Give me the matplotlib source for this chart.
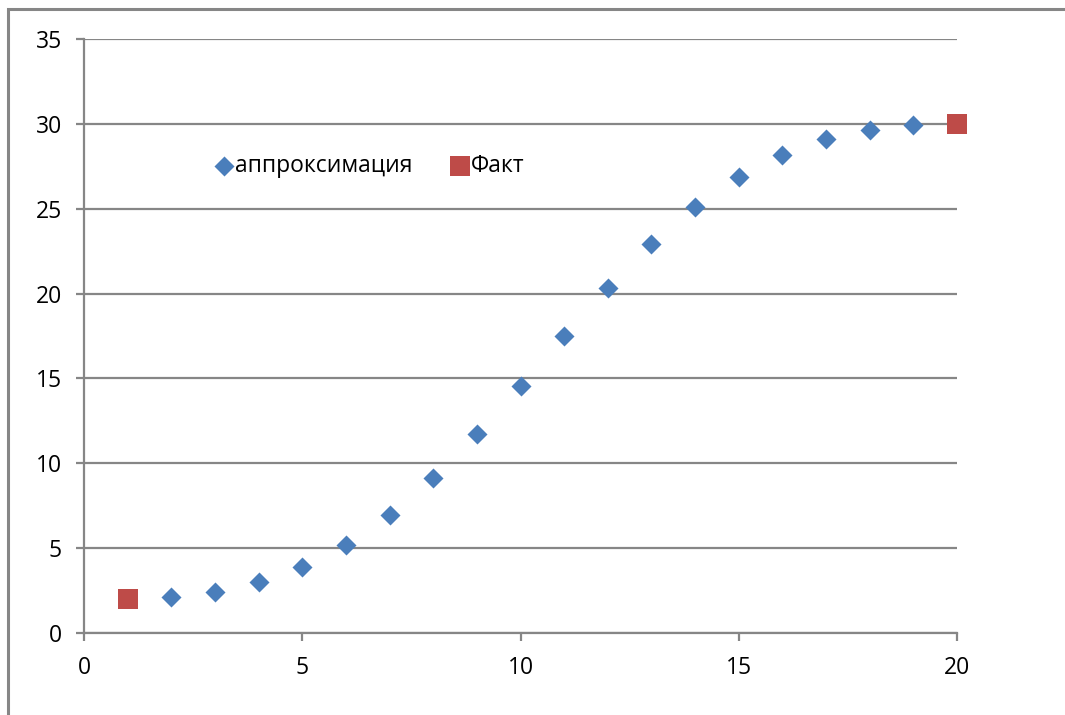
import matplotlib
matplotlib.use("Agg")
import matplotlib.pyplot as plt
from matplotlib.patches import Rectangle

plt.rcParams["font.family"] = ["Open Sans", "DejaVu Sans"]

# аппроксимация (x = 2..19) и фактические точки
approx_x = [2, 3, 4, 5, 6, 7, 8, 9, 10, 11, 12, 13, 14, 15, 16, 17, 18, 19]
approx_y = [2.12, 2.42, 3.0, 3.89, 5.19, 6.95, 9.13, 11.73, 14.56, 17.5,
            20.33, 22.92, 25.1, 26.87, 28.17, 29.11, 29.64, 29.93]
fact_x = [1, 20]
fact_y = [2, 30]

xticks = [0, 5, 10, 15, 20]
yticks = [0, 5, 10, 15, 20, 25, 30, 35]

GRID = "#868686"
BLUE = "#4A7EBB"
RED = "#BE4B48"

fig = plt.figure(figsize=(10.65, 7.15), dpi=100)
# рамка области диаграммы (обрезана справа и снизу)
fig.patches.append(Rectangle((8 / 1065, -0.1), 1.2, 1 - 9 / 715 + 0.1,
                             transform=fig.transFigure, fill=False,
                             edgecolor=GRID, linewidth=2.2))

ax = fig.add_axes([0.0789, 0.1147, 0.8197, 0.8308])
ax.set_xlim(0, 20)
ax.set_ylim(0, 35)
ax.set_xticks(xticks)
ax.set_yticks(yticks)

ax.scatter(approx_x, approx_y, marker="D", s=10.2 ** 2, color=BLUE,
           zorder=3, label="аппроксимация", linewidths=0)
ax.scatter(fact_x, fact_y, marker="s", s=14.4 ** 2, color=RED,
           zorder=3, label="Факт", linewidths=0, clip_on=False)

ax.yaxis.grid(True, color=GRID, linewidth=1.6)
ax.set_axisbelow(True)
for side in ("top", "right"):
    ax.spines[side].set_visible(False)
for side in ("left", "bottom"):
    ax.spines[side].set_color(GRID)
    ax.spines[side].set_linewidth(1.6)

ax.tick_params(axis="both", direction="out", length=5.8, width=1.6,
               color=GRID, labelsize=16.5, labelcolor="black")
ax.tick_params(axis="y", pad=10)
ax.tick_params(axis="x", pad=11)

ax.legend(loc="center left", bbox_to_anchor=(0.147, 0.786), frameon=False,
          ncol=2, fontsize=16.5, handletextpad=0.0, columnspacing=1.55,
          markerscale=1.0, borderaxespad=0, handlelength=1.0,
          borderpad=0)

fig.savefig("out.png", dpi=100, facecolor="white")
